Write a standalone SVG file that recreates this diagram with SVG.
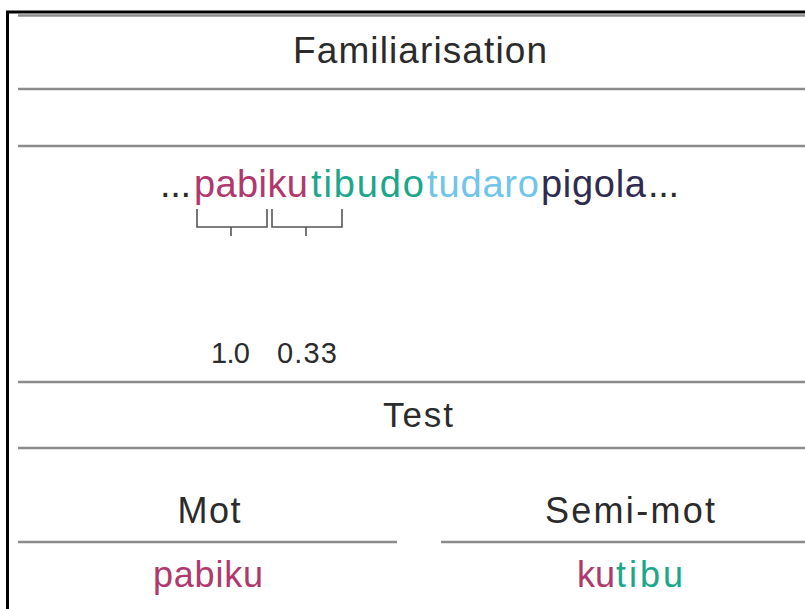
<svg xmlns="http://www.w3.org/2000/svg" width="805" height="609" viewBox="0 0 805 609">
<style>
  text { font-family: "Liberation Sans", Arial, sans-serif; fill: #2b2b2b; }
  .rule { stroke: #8c8c8c; stroke-width: 2.5; fill: none; }
  .frame { stroke: #000; stroke-width: 3; fill: none; }
  .brk { stroke: #555; stroke-width: 1.6; fill: none; }
  .mag { fill: #b0386c; }
  .teal { fill: #1ca68b; }
  .lblue { fill: #70c5ea; }
  .navy { fill: #2f2c52; }
</style>
<rect width="805" height="609" fill="#fff"/>
<g id="rules">
  <line class="rule" x1="18" y1="15.5" x2="805" y2="15.5"/>
  <line class="rule" x1="18" y1="89" x2="805" y2="89"/>
  <line class="rule" x1="18" y1="146" x2="805" y2="146"/>
  <line class="rule" x1="18" y1="382" x2="805" y2="382"/>
  <line class="rule" x1="18" y1="448" x2="805" y2="448"/>
  <line class="rule" x1="18" y1="542" x2="397" y2="542"/>
  <line class="rule" x1="441" y1="542" x2="805" y2="542"/>
</g>
<path class="frame" d="M7.5,609 V12 H805"/>
<g id="familiarisation">
  <text x="420" y="63" font-size="37" text-anchor="middle" textLength="254">Familiarisation</text>
</g>
<g id="sequence">
  <text x="160" y="197" font-size="38" textLength="31">...</text>
  <text x="194" y="197" font-size="38" class="mag" textLength="114">pabiku</text>
  <text x="311" y="197" font-size="38" class="teal" textLength="113">tibudo</text>
  <text x="427" y="197" font-size="38" class="lblue" textLength="112">tudaro</text>
  <text x="541" y="197" font-size="38" class="navy" textLength="105">pigola</text>
  <text x="648" y="197" font-size="38" textLength="31">...</text>
</g>
<g id="brackets">
  <path class="brk" d="M197,209 V227 H267 V209 M231,227 V236"/>
  <path class="brk" d="M272,209 V227 H342 V209 M306,227 V236"/>
</g>
<g id="probabilities">
  <text x="211" y="363" font-size="29" textLength="39">1.0</text>
  <text x="277" y="363" font-size="29" textLength="60">0.33</text>
</g>
<g id="test">
  <text x="418" y="427" font-size="35" text-anchor="middle" textLength="70">Test</text>
</g>
<g id="mot">
  <text x="209" y="523" font-size="36" text-anchor="middle" textLength="63">Mot</text>
  <text x="208" y="587" font-size="36" text-anchor="middle" class="mag" textLength="110">pabiku</text>
</g>
<g id="semi-mot">
  <text x="630" y="523" font-size="36" text-anchor="middle" textLength="170">Semi-mot</text>
  <text x="577" y="587" font-size="36" class="mag" textLength="38">ku</text>
  <text x="616" y="587" font-size="36" class="teal" textLength="67">tibu</text>
</g>
</svg>
